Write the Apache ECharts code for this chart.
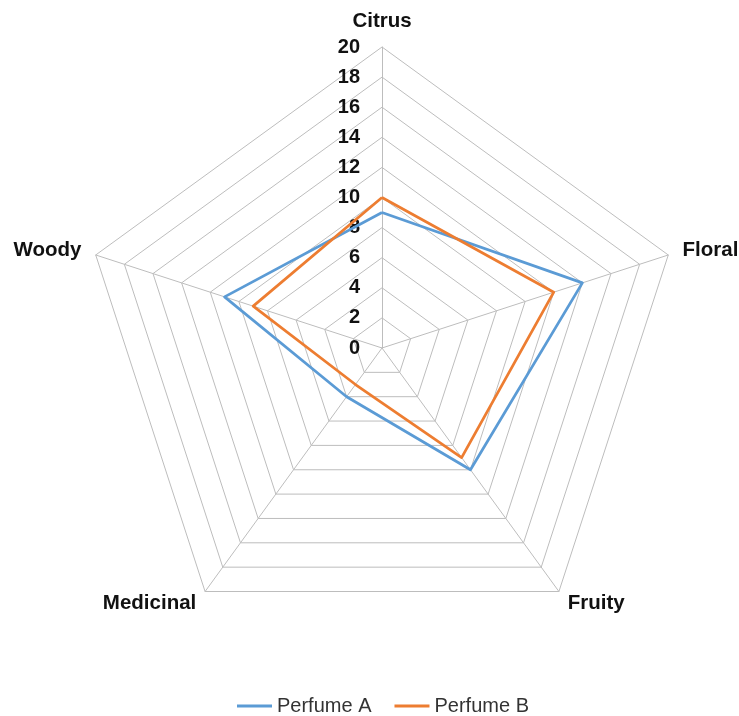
<!DOCTYPE html>
<html>
<head>
<meta charset="utf-8">
<script src="https://cdn.jsdelivr.net/npm/echarts@6/dist/echarts.min.js"></script>
<style>
  html, body { margin: 0; padding: 0; background: #fff; }
  #chart { width: 739px; height: 716px; }
</style>
</head>
<body>
<div id="chart"></div>
<script>
// categories, in the order echarts lays them out (counter-clockwise from top)
var scents = ['Citrus', 'Woody', 'Medicinal', 'Fruity', 'Floral'];
var perfumeA = [9, 11, 4, 10, 14];
var perfumeB = [10, 9, 3, 9, 12];
var scaleMax = 20;

var chart = echarts.init(document.getElementById('chart'));

var indicators = scents.map(function (name, i) {
  var ind = { name: name, max: scaleMax, min: 0 };
  if (i === 0) {
    // only the top axis carries the 0..20 labels
    ind.axisLabel = {
      show: true,
      color: '#111',
      fontSize: 20,
      fontWeight: 'bold',
      fontFamily: 'Liberation Sans, Arial, sans-serif',
      margin: 22
    };
  }
  return ind;
});

var option = {
  animation: false,
  legend: {
    top: 691,
    left: 232,
    icon: 'rect',
    itemWidth: 35,
    itemHeight: 3,
    itemGap: 23,
    textStyle: {
      fontSize: 20,
      color: '#333',
      fontFamily: 'Liberation Sans, Arial, sans-serif'
    },
    data: ['Perfume A', 'Perfume B']
  },
  radar: {
    center: [382, 348],
    radius: 301,
    startAngle: 90,
    splitNumber: 10,
    shape: 'polygon',
    indicator: indicators,
    axisName: {
      color: '#111',
      fontSize: 20.5,
      fontWeight: 'bold',
      fontFamily: 'Liberation Sans, Arial, sans-serif'
    },
    nameGap: 15,
    axisLine: { lineStyle: { color: '#bdbdbd', width: 1 } },
    splitLine: { lineStyle: { color: '#bdbdbd', width: 1 } },
    splitArea: { show: false },
    axisTick: { show: false },
    axisLabel: { show: false }
  },
  series: [
    {
      type: 'radar',
      symbol: 'none',
      data: [
        {
          name: 'Perfume A',
          value: perfumeA,
          itemStyle: { color: '#5b9bd5' },
          lineStyle: { color: '#5b9bd5', width: 2.75 }
        },
        {
          name: 'Perfume B',
          value: perfumeB,
          itemStyle: { color: '#ed7d31' },
          lineStyle: { color: '#ed7d31', width: 2.75 }
        }
      ]
    }
  ]
};

chart.setOption(option);
</script>
</body>
</html>
